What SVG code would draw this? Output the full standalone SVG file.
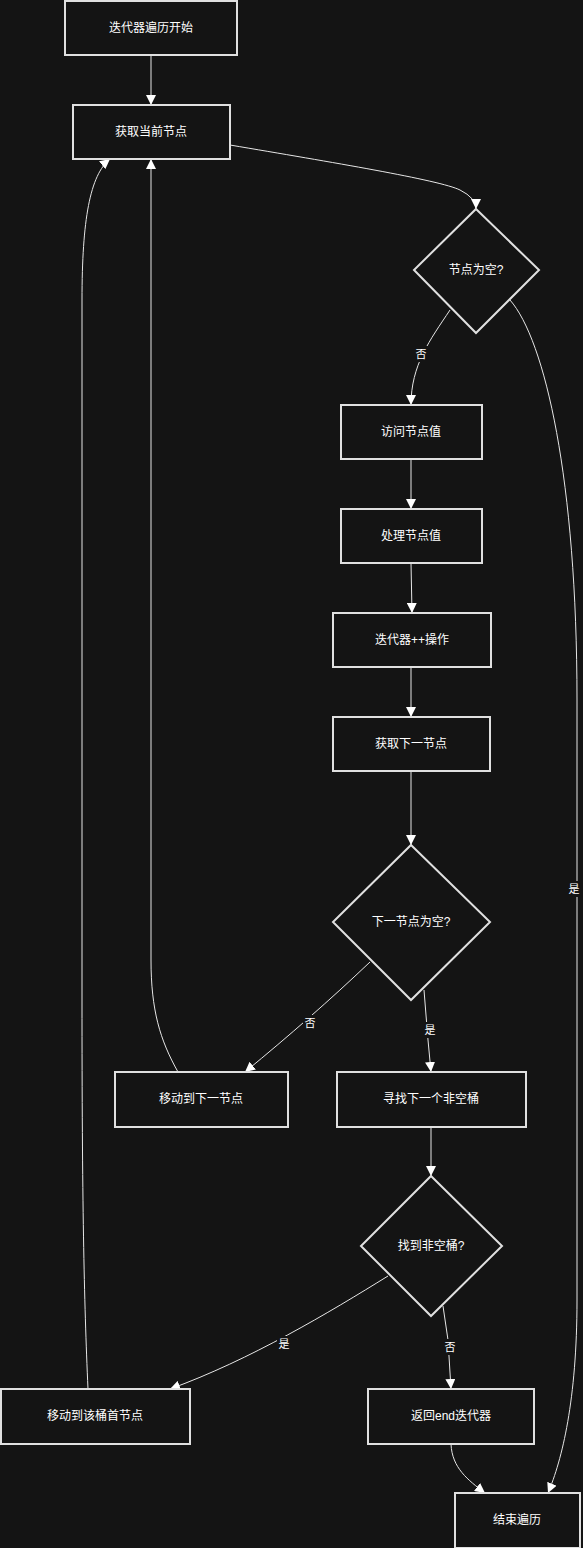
<svg xmlns="http://www.w3.org/2000/svg" width="583" height="1548" viewBox="0 0 583 1548">
<defs>
<style>
.node rect,.node polygon{fill:#141414;stroke:#e0e0e0;stroke-width:2}
.node text{fill:#ffffff;font-family:"Liberation Sans","Noto Sans CJK SC",sans-serif;font-size:12px;text-anchor:middle;dominant-baseline:central}
.edge{fill:none;stroke:#e6e6e6;stroke-width:1;marker-end:url(#arrow)}
.lbl rect{fill:#141414}
.lbl text{fill:#ffffff;font-family:"Liberation Sans","Noto Sans CJK SC",sans-serif;font-size:11px;text-anchor:middle;dominant-baseline:central}
</style>
<marker id="arrow" markerUnits="userSpaceOnUse" markerWidth="10" markerHeight="10" viewBox="0 0 10 10" refX="10" refY="5" orient="auto">
<path d="M0,0 L10,5 L0,10 z" fill="#ffffff"/>
</marker>
</defs>
<rect x="0" y="0" width="583" height="1548" fill="#141414"/>
<g id="connectors">
<path class="edge" d="M151,55 L151,105"/>
<path class="edge" d="M230,145 C330,162 440,180 460,190 Q476,198 476,209"/>
<path class="edge" d="M450,310 C430,340 411,365 411,405"/>
<path class="edge" d="M510,300 C545,340 577,480 577,700 L577,1300 C577,1400 562,1460 548,1493"/>
<path class="edge" d="M411,459 L411,509"/>
<path class="edge" d="M411,563 L412,613"/>
<path class="edge" d="M411,667 L411,717"/>
<path class="edge" d="M411,771 L411,845"/>
<path class="edge" d="M370,962 C330,1000 290,1035 245,1072"/>
<path class="edge" d="M424,990 L428,1040 L431,1072"/>
<path class="edge" d="M178,1072 C160,1040 151,1010 151,960 L151,159"/>
<path class="edge" d="M431,1127 L431,1176"/>
<path class="edge" d="M388,1276 C330,1312 250,1360 170,1389"/>
<path class="edge" d="M443,1306 L448,1340 L451,1389"/>
<path class="edge" d="M88,1389 C84,1300 82,1200 82,1000 L82,300 C82,220 90,175 110,159"/>
<path class="edge" d="M451,1444 C452,1468 468,1480 485,1493"/>
<g class="lbl"><rect x="414" y="346" width="14" height="16"/><text x="421" y="354">否</text></g>
<g class="lbl"><rect x="567" y="881" width="14" height="16"/><text x="574" y="889">是</text></g>
<g class="lbl"><rect x="303" y="1015" width="14" height="16"/><text x="310" y="1023">否</text></g>
<g class="lbl"><rect x="423" y="1022" width="14" height="16"/><text x="430" y="1030">是</text></g>
<g class="lbl"><rect x="277" y="1336" width="14" height="16"/><text x="284" y="1344">是</text></g>
<g class="lbl"><rect x="443" y="1339" width="14" height="16"/><text x="450" y="1347">否</text></g>
</g>
<g id="n1" class="node"><rect x="65" y="1" width="172" height="54"/><text x="151" y="28">迭代器遍历开始</text></g>
<g id="n2" class="node"><rect x="73" y="105" width="157" height="54"/><text x="151" y="132">获取当前节点</text></g>
<g id="n3" class="node"><polygon points="476,209 539,270 476,333 414,270"/><text x="476" y="270">节点为空?</text></g>
<g id="n4" class="node"><rect x="341" y="405" width="141" height="54"/><text x="411" y="432">访问节点值</text></g>
<g id="n5" class="node"><rect x="341" y="509" width="141" height="54"/><text x="411" y="536">处理节点值</text></g>
<g id="n6" class="node"><rect x="333" y="613" width="158" height="54"/><text x="412" y="640">迭代器++操作</text></g>
<g id="n7" class="node"><rect x="333" y="717" width="157" height="54"/><text x="411" y="744">获取下一节点</text></g>
<g id="n8" class="node"><polygon points="411,845 490,922 411,1000 333,922"/><text x="411" y="922">下一节点为空?</text></g>
<g id="n9" class="node"><rect x="115" y="1072" width="173" height="55"/><text x="201" y="1099">移动到下一节点</text></g>
<g id="n10" class="node"><rect x="337" y="1072" width="189" height="55"/><text x="431" y="1099">寻找下一个非空桶</text></g>
<g id="n11" class="node"><polygon points="431,1176 502,1246 431,1316 361,1246"/><text x="431" y="1246">找到非空桶?</text></g>
<g id="n12" class="node"><rect x="1" y="1389" width="189" height="55"/><text x="95" y="1416">移动到该桶首节点</text></g>
<g id="n13" class="node"><rect x="368" y="1389" width="166" height="55"/><text x="451" y="1416">返回end迭代器</text></g>
<g id="n14" class="node"><rect x="455" y="1493" width="125" height="55"/><text x="517" y="1520">结束遍历</text></g>
</svg>
